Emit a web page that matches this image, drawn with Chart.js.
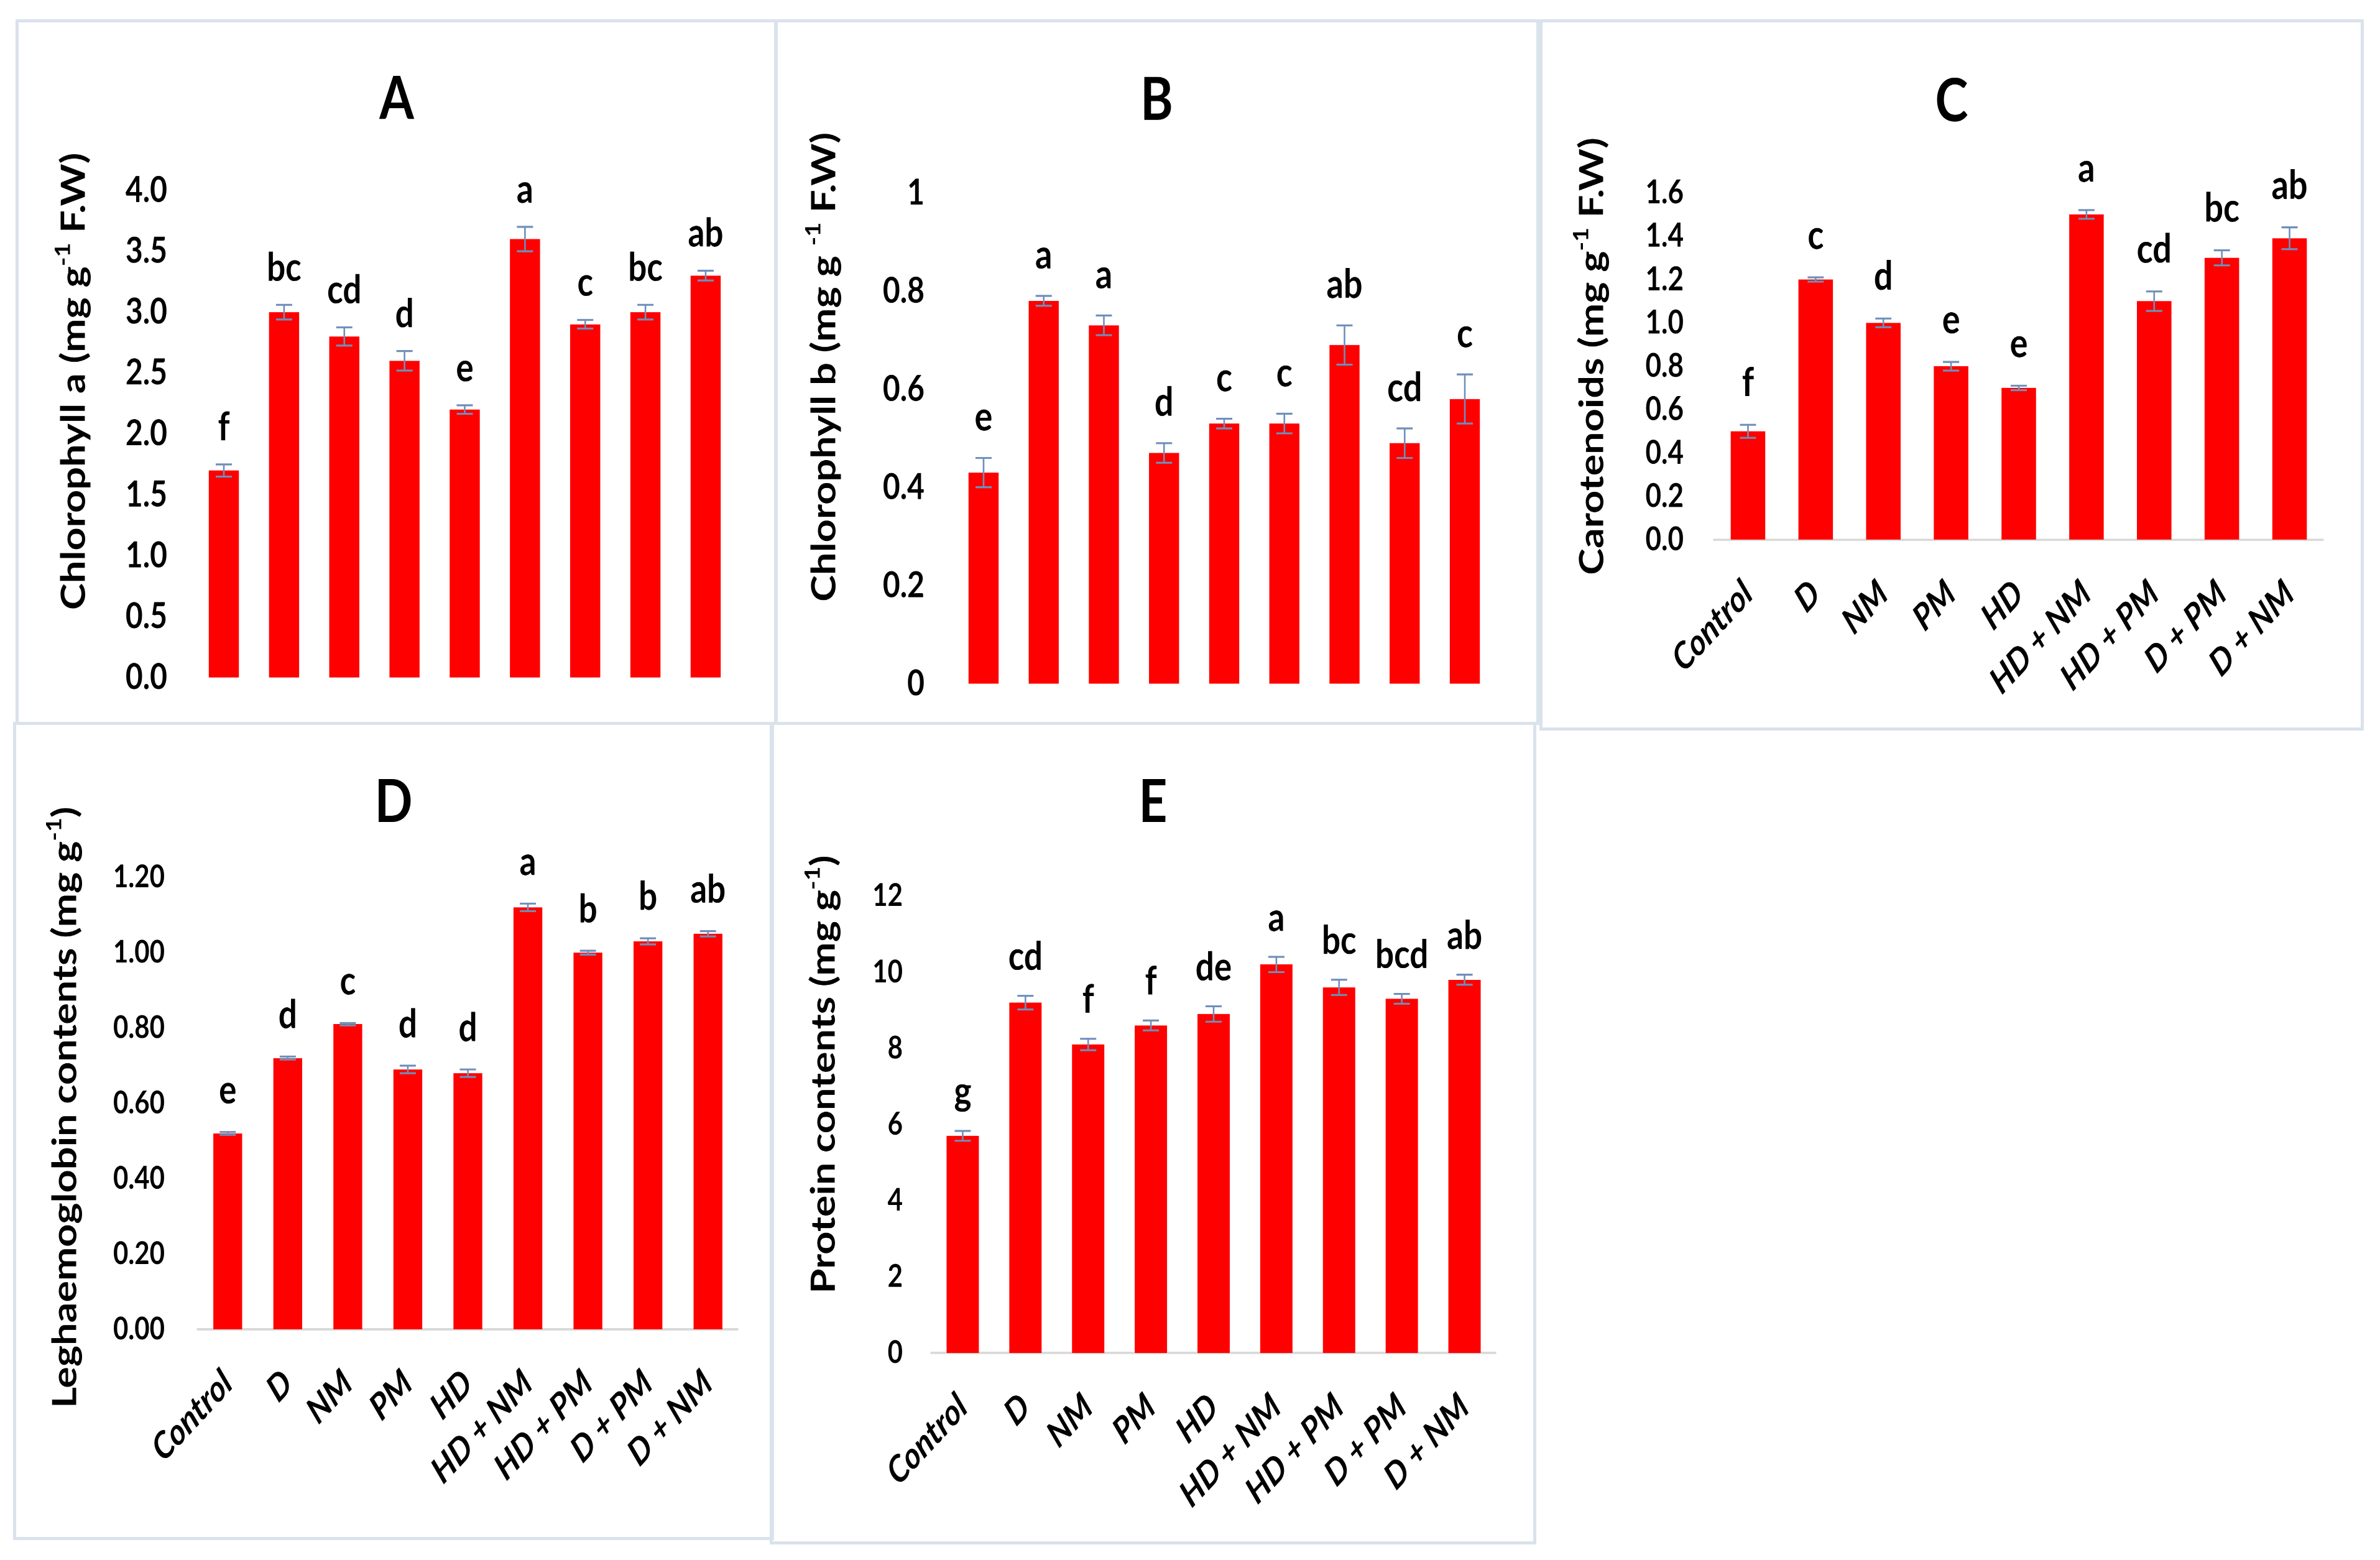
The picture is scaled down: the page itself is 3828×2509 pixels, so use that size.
<!DOCTYPE html>
<html><head><meta charset="utf-8">
<script src="https://cdn.jsdelivr.net/npm/chart.js@4.4.1/dist/chart.umd.min.js"></script>
<style>
html,body{margin:0;padding:0;background:#fff;}
body{width:3828px;height:2509px;position:relative;overflow:hidden;}
.box{position:absolute;border:5px solid #dae2ec;box-sizing:border-box;}
.wrap{position:absolute;transform-origin:0 0;}
.wrap canvas{display:block;}
</style></head><body>
<script>
// ---------- data ----------
const categories = ['Control','D','NM','PM','HD','HD + NM','HD + PM','D + PM','D + NM'];

const chlA        = [1.70, 3.00, 2.80, 2.60, 2.20, 3.60, 2.90, 3.00, 3.30];
const chlAErr     = [0.05, 0.06, 0.075, 0.08, 0.035, 0.10, 0.035, 0.06, 0.04];
const chlALetters = ['f','bc','cd','d','e','a','c','bc','ab'];
const chlATicks   = ['0.0','0.5','1.0','1.5','2.0','2.5','3.0','3.5','4.0'];

const chlB        = [0.43, 0.78, 0.73, 0.47, 0.53, 0.53, 0.69, 0.49, 0.58];
const chlBErr     = [0.03, 0.01, 0.02, 0.02, 0.01, 0.02, 0.04, 0.03, 0.05];
const chlBLetters = ['e','a','a','d','c','c','ab','cd','c'];
const chlBTicks   = ['0','0.2','0.4','0.6','0.8','1'];

const carot        = [0.50, 1.20, 1.00, 0.80, 0.70, 1.50, 1.10, 1.30, 1.39];
const carotErr     = [0.03, 0.01, 0.02, 0.02, 0.01, 0.02, 0.045, 0.035, 0.05];
const carotLetters = ['f','c','d','e','e','a','cd','bc','ab'];
const carotTicks   = ['0.0','0.2','0.4','0.6','0.8','1.0','1.2','1.4','1.6'];

const leg        = [0.52, 0.72, 0.81, 0.69, 0.68, 1.12, 1.00, 1.03, 1.05];
const legErr     = [0.004, 0.004, 0.003, 0.01, 0.01, 0.01, 0.005, 0.008, 0.007];
const legLetters = ['e','d','c','d','d','a','b','b','ab'];
const legTicks   = ['0.00','0.20','0.40','0.60','0.80','1.00','1.20'];

const prot        = [5.7, 9.2, 8.1, 8.6, 8.9, 10.2, 9.6, 9.3, 9.8];
const protErr     = [0.13, 0.18, 0.15, 0.13, 0.2, 0.2, 0.2, 0.13, 0.13];
const protLetters = ['g','cd','f','f','de','a','bc','bcd','ab'];
const protTicks   = ['0','2','4','6','8','10','12'];

const yTitleA = [{t:'Chlorophyll a (mg g'},{t:'-1',sup:true},{t:' F.W)'}];
const yTitleB = [{t:'Chlorophyll b (mg g '},{t:'-1',sup:true},{t:' F.W)'}];
const yTitleC = [{t:'Carotenoids (mg g'},{t:'-1',sup:true},{t:' F.W)'}];
const yTitleD = [{t:'Leghaemoglobin contents (mg g'},{t:'-1',sup:true},{t:')'}];
const yTitleE = [{t:'Protein contents (mg g'},{t:'-1',sup:true},{t:')'}];

// ---------- styling / layout ----------
const K = 1.2;          // vertical stretch of the reference figure
const BW = 5;           // panel border width
const FAMILY = "Lato, 'Open Sans', 'DejaVu Sans', sans-serif";
const RED = '#ff0000';
const ERR = '#6f8fba';
Chart.defaults.font.family = FAMILY;
Chart.defaults.color = '#000';

function makeAnnot(values, errs, letters, gap, size) {
  return {
    id: 'annot',
    afterDatasetsDraw(chart) {
      const ctx = chart.ctx, y = chart.scales.y;
      const meta = chart.getDatasetMeta(0);
      ctx.save();
      meta.data.forEach((bar, i) => {
        const v = values[i], e = errs[i], x = bar.x;
        const yt = y.getPixelForValue(v + e), yb = y.getPixelForValue(v - e);
        ctx.strokeStyle = ERR; ctx.lineWidth = 2.6;
        ctx.beginPath();
        ctx.moveTo(x, yt); ctx.lineTo(x, yb);
        ctx.moveTo(x - 13, yt); ctx.lineTo(x + 13, yt);
        ctx.moveTo(x - 13, yb); ctx.lineTo(x + 13, yb);
        ctx.stroke();
        ctx.fillStyle = '#000';
        ctx.font = `bold ${size}px ${FAMILY}`;
        ctx.textAlign = 'center'; ctx.textBaseline = 'alphabetic';
        ctx.fillText(letters[i], x, yt - gap);
      });
      ctx.restore();
    }
  };
}

function makeYTitle(parts, cx, cy, size) {
  return {
    id: 'ytitle',
    afterDraw(chart) {
      const ctx = chart.ctx;
      ctx.save();
      ctx.translate(cx, cy);
      ctx.rotate(-Math.PI / 2);
      ctx.fillStyle = '#000';
      ctx.textBaseline = 'middle'; ctx.textAlign = 'left';
      const big = `bold ${size}px ${FAMILY}`;
      const small = `bold ${Math.round(size * 0.62)}px ${FAMILY}`;
      let total = 0;
      const w = parts.map(p => { ctx.font = p.sup ? small : big; const m = ctx.measureText(p.t).width; total += m; return m; });
      let x = -total / 2;
      parts.forEach((p, i) => {
        ctx.font = p.sup ? small : big;
        ctx.fillText(p.t, x, p.sup ? -size * 0.32 : 0);
        x += w[i];
      });
      ctx.restore();
    }
  };
}

function panel(P) {
  const il = P.box.l + BW, it = P.box.t + BW, ir = P.box.r - BW, ib = P.box.b - BW;
  const W = ir - il, H = (ib - it) / K;
  const cyf = v => (v - it) / K;
  const top = cyf(P.area.t), bot = cyf(P.area.b);
  const leftW = P.area.l - il, rightW = ir - P.area.r;
  const tLH = 1.2 * P.titleSize;
  const tMid = cyf(P.titleBase) - 0.387 * P.titleSize;
  const tPadTop = tMid - tLH / 2, tPadBot = top - tPadTop - tLH;

  const box = document.createElement('div');
  box.className = 'box';
  Object.assign(box.style, {left: P.box.l + 'px', top: P.box.t + 'px',
    width: (P.box.r - P.box.l) + 'px', height: (P.box.b - P.box.t) + 'px'});
  document.body.appendChild(box);

  const wrap = document.createElement('div');
  wrap.className = 'wrap';
  Object.assign(wrap.style, {left: il + 'px', top: it + 'px', width: W + 'px', height: H + 'px',
    transform: `scaleY(${K})`});
  const cv = document.createElement('canvas');
  wrap.appendChild(cv);
  document.body.appendChild(wrap);

  new Chart(cv, {
    type: 'bar',
    data: { labels: categories, datasets: [{ data: P.values, backgroundColor: RED, borderWidth: 0,
      barPercentage: P.barPct, categoryPercentage: 1, yAxisID: 'y', xAxisID: 'x' }] },
    options: {
      responsive: true, maintainAspectRatio: false, animation: false, devicePixelRatio: 2,
      layout: { padding: 0 },
      plugins: {
        legend: { display: false }, tooltip: { enabled: false },
        title: { display: true, text: P.title, color: '#000',
          font: { size: P.titleSize, weight: 'bold' }, padding: { top: tPadTop, bottom: tPadBot } }
      },
      scales: {
        x: {
          display: true, offset: true,
          grid: { display: false, drawTicks: false },
          border: { display: P.showX, color: '#d9d9d9', width: 3 },
          ticks: { display: P.showX, autoSkip: false, maxRotation: 42, minRotation: 42, padding: 43, color: '#000',
            font: { size: 49, style: 'italic', weight: 'bold' } },
          afterFit: s => { s.height = H - bot; s.paddingLeft = 0; s.paddingRight = 0; }
        },
        y: {
          position: 'left',
          min: P.min, max: P.max,
          grid: { display: false, drawTicks: false },
          border: { display: false },
          ticks: { stepSize: P.step, padding: P.area.l - P.tickRight, color: '#000',
            font: { size: P.tickSize, weight: 'bold' },
            callback: (v, i) => P.tickLabels[i] },
          afterFit: s => { s.width = leftW; s.paddingTop = 0; s.paddingBottom = 0; }
        },
        yr: {
          position: 'right', display: true,
          grid: { display: false, drawTicks: false },
          border: { display: false },
          ticks: { display: false },
          afterFit: s => { s.width = rightW; s.paddingTop = 0; s.paddingBottom = 0; }
        }
      }
    },
    plugins: [
      makeAnnot(P.values, P.errs, P.letters, P.gap / K, P.letterSize),
      makeYTitle(P.yTitle, P.yTitleX - il, cyf(P.yTitleY), 54)
    ]
  });
}

panel({ title: 'A', values: chlA, errs: chlAErr, letters: chlALetters, tickLabels: chlATicks,
  min: 0, max: 4, step: 0.5, yTitle: yTitleA,
  box: {l: 25, t: 31, r: 1251, b: 1166}, area: {l: 311.6, r: 1183.4, t: 306, b: 1089},
  titleBase: 197, titleSize: 80, yTitleX: 119, yTitleY: 613, tickRight: 269, tickSize: 48,
  gap: 39, letterSize: 53, barPct: 0.5, showX: false });

panel({ title: 'B', values: chlB, errs: chlBErr, letters: chlBLetters, tickLabels: chlBTicks,
  min: 0, max: 1, step: 0.2, yTitle: yTitleB,
  box: {l: 1245, t: 31, r: 2476, b: 1166}, area: {l: 1533.6, r: 2404.4, t: 310, b: 1099},
  titleBase: 199, titleSize: 80, yTitleX: 1326, yTitleY: 590, tickRight: 1487, tickSize: 48,
  gap: 44, letterSize: 54, barPct: 0.5, showX: false });

panel({ title: 'C', values: carot, errs: carotErr, letters: carotLetters, tickLabels: carotTicks,
  min: 0, max: 1.6, step: 0.2, yTitle: yTitleC,
  box: {l: 2476, t: 31, r: 3802, b: 1175}, area: {l: 2757, r: 3737, t: 310, b: 868},
  titleBase: 201, titleSize: 80, yTitleX: 2561, yTitleY: 573, tickRight: 2708, tickSize: 44,
  gap: 46, letterSize: 54, barPct: 0.51, showX: true });

panel({ title: 'D', values: leg, errs: legErr, letters: legLetters, tickLabels: legTicks,
  min: 0, max: 1.2, step: 0.2, yTitle: yTitleD,
  box: {l: 21, t: 1161, r: 1245, b: 2477}, area: {l: 318, r: 1187, t: 1411, b: 2138},
  titleBase: 1328, titleSize: 80, yTitleX: 105, yTitleY: 1781, tickRight: 265, tickSize: 42,
  gap: 46, letterSize: 53, barPct: 0.48, showX: true });

panel({ title: 'E', values: prot, errs: protErr, letters: protLetters, tickLabels: protTicks,
  min: 0, max: 12, step: 2, yTitle: yTitleE,
  box: {l: 1238, t: 1161, r: 2471, b: 2484}, area: {l: 1498, r: 2406, t: 1441, b: 2176},
  titleBase: 1328, titleSize: 80, yTitleX: 1325, yTitleY: 1728, tickRight: 1452, tickSize: 42,
  gap: 42, letterSize: 53, barPct: 0.515, showX: true });
</script>
</body></html>
